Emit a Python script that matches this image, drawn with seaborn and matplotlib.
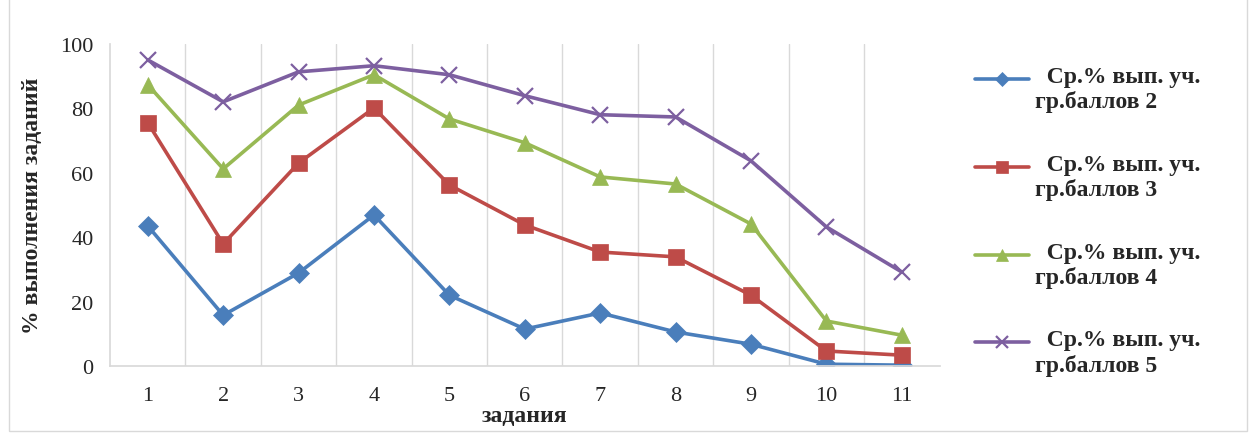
import numpy as np
import pandas as pd
import matplotlib.pyplot as plt
import seaborn as sns
from matplotlib.patches import Rectangle

tasks = [1, 2, 3, 4, 5, 6, 7, 8, 9, 10, 11]
grp2 = [43.5, 15.8, 28.9, 46.9, 22.0, 11.5, 16.5, 10.6, 6.8, 0.6, 0.3]
grp3 = [75.5, 37.9, 63.0, 80.1, 56.2, 43.8, 35.4, 33.9, 22.0, 4.7, 3.4]
grp4 = [87.3, 61.2, 81.0, 90.4, 76.7, 69.3, 58.7, 56.5, 44.1, 14.0, 9.6]
grp5 = [95.0, 82.0, 91.3, 93.2, 90.4, 83.9, 78.0, 77.3, 63.7, 43.2, 29.2]

labels = ['  Ср.% вып. уч.\nгр.баллов 2', '  Ср.% вып. уч.\nгр.баллов 3',
          '  Ср.% вып. уч.\nгр.баллов 4', '  Ср.% вып. уч.\nгр.баллов 5']
colors = ['#4a7ebb', '#be4b48', '#98b954', '#7d5fa0']
markers = ['D', 's', '^', 'x']
sizes = [10, 12, 12, 11]

sns.set_theme(style='white')
plt.rcParams['font.family'] = ['Liberation Serif', 'DejaVu Serif']

fig = plt.figure(figsize=(12.51, 4.35), dpi=100)
ax = fig.add_axes([0.088, 0.156, 0.663, 0.741])

series = [grp2, grp3, grp4, grp5]
for vals, lab, col, mk, ms in zip(series, labels, colors, markers, sizes):
    df = pd.DataFrame({'task': tasks, 'val': vals})
    sns.lineplot(data=df, x='task', y='val', ax=ax, color=col, linewidth=2.6,
                 marker=mk, markersize=ms, markeredgecolor=col,
                 markeredgewidth=1.6 if mk == 'x' else 0.5, label=lab)

ax.set_xlim(0.5, 11.5)
ax.set_ylim(0, 100)
ax.set_yticks([0, 20, 40, 60, 80, 100])
ax.set_xticks(tasks)
ax.set_xticks(np.arange(1.5, 11, 1), minor=True)
ax.grid(True, which='minor', axis='x', color='#d9d9d9', linewidth=1)
ax.grid(False, which='major')
ax.tick_params(axis='both', which='both', length=0, labelsize=16, pad=14)
ax.tick_params(axis='y', pad=12)
for s in ['top', 'right']:
    ax.spines[s].set_visible(False)
ax.spines['left'].set_color('#d9d9d9')
ax.spines['bottom'].set_color('#d9d9d9')
ax.set_xlabel('задания', fontsize=17, fontweight='bold', labelpad=0)
ax.set_ylabel('% выполнения заданий', fontsize=17, fontweight='bold', labelpad=12)

handles, labs = ax.get_legend_handles_labels()
ax.get_legend().remove()
leg = fig.legend(handles, labs, loc='center left', bbox_to_anchor=(0.762, 0.49),
                 frameon=False, prop={'size': 17, 'weight': 'bold'},
                 labelspacing=1.75, handlelength=2.3, handletextpad=0.25,
                 markerscale=0.75)
# put the legend line next to the first text line, as in the original
for h in leg.legend_handles:
    h.set_ydata(np.asarray(h.get_ydata()) + 7)

fig.patches.append(Rectangle((0.007, 0.008), 0.99, 1.2, transform=fig.transFigure,
                             fill=False, edgecolor='#d9d9d9', linewidth=1))

fig.savefig('out.png', dpi=100)
